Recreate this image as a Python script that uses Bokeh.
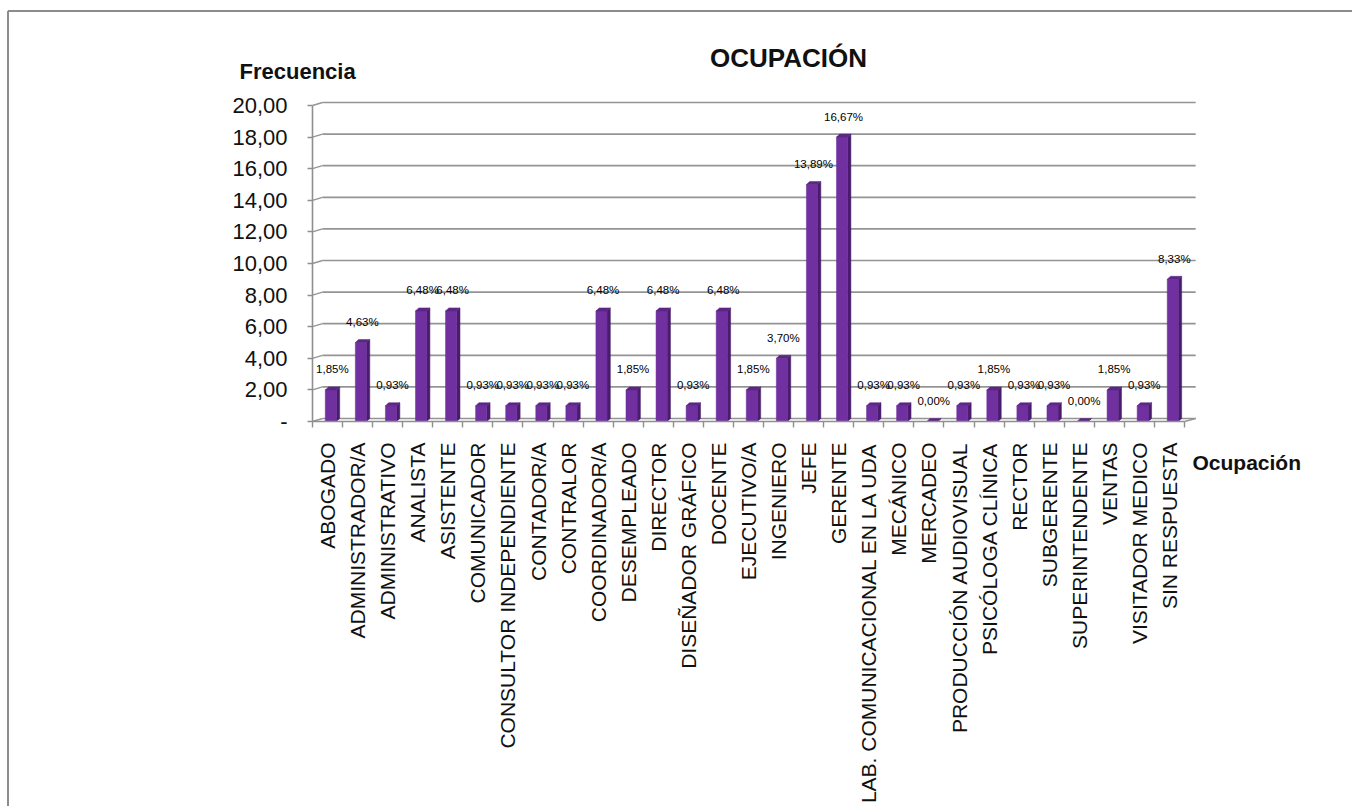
import math
from bokeh.plotting import figure
from bokeh.models import Range1d, FixedTicker, LinearAxis, ColumnDataSource
from bokeh.core.properties import value
from bokeh.embed import file_html
from bokeh.resources import INLINE

categorias = [
    "ABOGADO", "ADMINISTRADOR/A", "ADMINISTRATIVO", "ANALISTA", "ASISTENTE",
    "COMUNICADOR", "CONSULTOR INDEPENDIENTE", "CONTADOR/A", "CONTRALOR",
    "COORDINADOR/A", "DESEMPLEADO", "DIRECTOR", "DISEÑADOR GRÁFICO", "DOCENTE",
    "EJECUTIVO/A", "INGENIERO", "JEFE", "GERENTE",
    "LAB. COMUNICACIONAL EN LA UDA", "MECÁNICO", "MERCADEO",
    "PRODUCCIÓN AUDIOVISUAL", "PSICÓLOGA CLÍNICA", "RECTOR", "SUBGERENTE",
    "SUPERINTENDENTE", "VENTAS", "VISITADOR MEDICO", "SIN RESPUESTA",
]
frecuencia = [2, 5, 1, 7, 7, 1, 1, 1, 1, 7, 2, 7, 1, 7, 2, 4, 15, 18, 1, 1, 0,
              1, 2, 1, 1, 0, 2, 1, 9]
porcentajes = ["1,85%", "4,63%", "0,93%", "6,48%", "6,48%", "0,93%", "0,93%",
               "0,93%", "0,93%", "6,48%", "1,85%", "6,48%", "0,93%", "6,48%",
               "1,85%", "3,70%", "13,89%", "16,67%", "0,93%", "0,93%", "0,00%",
               "0,93%", "1,85%", "0,93%", "0,93%", "0,00%", "1,85%", "0,93%",
               "8,33%"]
y_ticks = [0, 2, 4, 6, 8, 10, 12, 14, 16, 18, 20]
y_tick_labels = ["-", "2,00", "4,00", "6,00", "8,00", "10,00", "12,00",
                 "14,00", "16,00", "18,00", "20,00"]
titulo = "OCUPACIÓN"
titulo_y = "Frecuencia"
titulo_x = "Ocupación"

FONT = "Liberation Sans"
n = len(categorias)

# canvas geometry (pixels)
W, H = 1352, 806
OX, OY = 312.0, 421.0      # pixel position of data origin
SXP, SYP = 30.07, 15.8     # pixels per data unit


def dx(px):
    return (px - OX) / SXP


def dy(py):
    return (OY - py) / SYP


p = figure(
    width=W, height=H,
    x_range=Range1d(dx(0), dx(W)), y_range=Range1d(dy(H), dy(0)),
    min_border=0, min_border_left=0, min_border_right=0,
    min_border_top=0, min_border_bottom=0,
    x_axis_location=None, y_axis_location=None,
    output_backend="svg", toolbar_location=None,
    background_fill_color="white", border_fill_color="white",
    outline_line_color=None,
)
p.xgrid.visible = False
p.ygrid.visible = False

# outer chart frame (top and left edges)
p.segment(x0=[dx(7.5)], y0=[dy(10.5)], x1=[dx(W)], y1=[dy(10.5)],
          line_color="#8c8c8c", line_width=2)
p.segment(x0=[dx(7.5)], y0=[dy(10.5)], x1=[dx(7.5)], y1=[dy(H)],
          line_color="#8c8c8c", line_width=2)

# 3D back wall grid lines
DX, DY = 0.33, 0.19
gx0 = [DX] * len(y_ticks)
gx1 = [29.37] * len(y_ticks)
gy = [t + DY for t in y_ticks]
p.segment(x0=gx0, y0=gy, x1=gx1, y1=gy, line_color="#949494", line_width=1.7)
p.segment(x0=[0] * len(y_ticks), y0=y_ticks, x1=gx0, y1=gy,
          line_color="#949494", line_width=1.4)
p.segment(x0=[n], y0=[0], x1=[n + 0.37], y1=[DY], line_color="#949494", line_width=1.4)

# bars (front face, side face, top face)
BW = 0.37
SX, SY = 0.11, 0.19
front_x = [k + 0.61 for k in range(n)]
x0s = [k + 0.61 - BW / 2 for k in range(n)]
x1s = [k + 0.61 + BW / 2 for k in range(n)]
side_xs = [[a, a + SX, a + SX, a] for a in x1s]
side_ys = [[0, SY, v + SY, v] for v in frecuencia]
top_xs = [[a, b, b + SX, a + SX] for a, b in zip(x0s, x1s)]
top_ys = [[v, v, v + SY, v + SY] for v in frecuencia]

p.patches(xs=side_xs, ys=side_ys, fill_color="#4a1c6d", line_color="#4a1c6d", line_width=0.5)
p.vbar(x=front_x, width=BW, top=frecuencia, bottom=0, fill_color="#7030a0",
       line_color="#6a2c99", line_width=0.5)
p.patches(xs=top_xs, ys=top_ys, fill_color="#5c2686", line_color="#5c2686", line_width=0.5)

# percentage labels
src = ColumnDataSource(dict(x=[k + 0.66 for k in range(n)],
                            y=[v + 1.3 for v in frecuencia],
                            t=porcentajes))
p.text(x="x", y="y", text="t", source=src, text_align="center",
       text_baseline="middle", text_font=value(FONT), text_font_size="11.5px",
       text_color="#000000")

# y axis
ya = LinearAxis(fixed_location=0)
ya.ticker = FixedTicker(ticks=y_ticks)
ya.major_label_overrides = {t: l for t, l in zip(y_ticks, y_tick_labels)}
ya.bounds = (0, 20)
ya.axis_line_color = "#8f8f8f"
ya.axis_line_width = 1.6
ya.major_tick_line_color = "#8f8f8f"
ya.major_tick_line_width = 1.4
ya.major_tick_out = 5
ya.major_tick_in = 0
ya.minor_tick_line_color = None
ya.major_label_standoff = 20
ya.major_label_text_font = FONT
ya.major_label_text_font_size = "22px"
ya.major_label_text_color = "#111111"
p.add_layout(ya, "left")

# x axis
xa = LinearAxis(fixed_location=0)
centers = [k + 0.5 for k in range(n)]
xa.ticker = FixedTicker(ticks=centers, minor_ticks=list(range(n + 1)))
xa.major_label_overrides = {c: name for c, name in zip(centers, categorias)}
xa.bounds = (0, n)
xa.axis_line_color = "#8f8f8f"
xa.axis_line_width = 1.6
xa.major_tick_out = 0
xa.major_tick_in = 0
xa.minor_tick_out = 6
xa.minor_tick_in = 0
xa.minor_tick_line_color = "#8f8f8f"
xa.minor_tick_line_width = 1.4
xa.major_label_orientation = math.pi / 2
xa.major_label_standoff = 15
xa.major_label_text_font = FONT
xa.major_label_text_font_size = "21px"
xa.major_label_text_color = "#111111"
p.add_layout(xa, "below")

# titles
p.text(x=[dx(788)], y=[dy(57)], text=[titulo], text_align="center",
       text_baseline="alphabetic", text_font=value(FONT),
       text_font_size="26px", text_font_style="bold", text_color="#111111")
p.text(x=[dx(239)], y=[dy(71)], text=[titulo_y], text_align="left",
       text_baseline="alphabetic", text_font=value(FONT),
       text_font_size="22px", text_font_style="bold", text_color="#111111")
p.text(x=[dx(1192)], y=[dy(462)], text=[titulo_x], text_align="left",
       text_baseline="alphabetic", text_font=value(FONT),
       text_font_size="21px", text_font_style="bold", text_color="#111111")

open("out.html", "w").write(file_html(p, INLINE))
